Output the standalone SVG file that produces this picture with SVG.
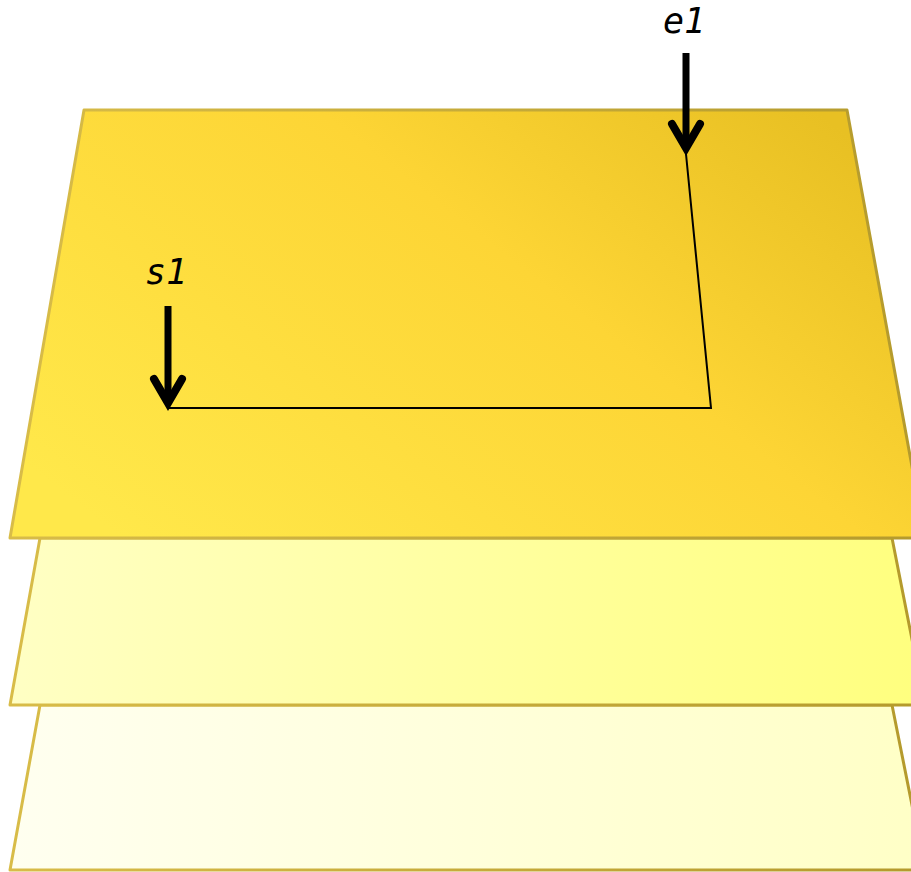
<svg xmlns="http://www.w3.org/2000/svg" width="911" height="872" viewBox="0 0 911 872">
<defs>
<linearGradient id="gTop" x1="0" y1="0.8" x2="1" y2="0.2">
<stop offset="0" stop-color="#FFE84A"/>
<stop offset="0.6" stop-color="#FDD535"/>
<stop offset="1" stop-color="#E8C023"/>
</linearGradient>
<linearGradient id="gMid" x1="0" y1="0" x2="1" y2="0">
<stop offset="0" stop-color="#FFFFC4"/>
<stop offset="1" stop-color="#FFFF7E"/>
</linearGradient>
<linearGradient id="gBot" x1="0" y1="0" x2="1" y2="0">
<stop offset="0" stop-color="#FFFFF0"/>
<stop offset="1" stop-color="#FFFFC6"/>
</linearGradient>
<linearGradient id="gStroke" x1="0" y1="0" x2="1" y2="0">
<stop offset="0" stop-color="#D8BC48"/>
<stop offset="1" stop-color="#B49A2C"/>
</linearGradient>
</defs>
<style>
.plate{stroke:url(#gStroke);stroke-width:3;stroke-linejoin:round}
.lbl{font-family:"DejaVu Sans Mono","Liberation Mono",monospace;font-style:italic;font-size:35px;fill:#000;text-anchor:middle}
.shaft{stroke:#000;stroke-width:7;fill:none}
.head{stroke:#000;stroke-width:8;fill:none;stroke-linecap:round;stroke-linejoin:miter}
.route{stroke:#000;stroke-width:2;fill:none}
</style>
<g id="plate-bottom">
<polygon class="plate" points="40,705 892,705 925,870 10,870" fill="url(#gBot)"/>
</g>
<g id="plate-middle">
<polygon class="plate" points="40,538 892,538 925,705 10,705" fill="url(#gMid)"/>
</g>
<g id="plate-top">
<polygon class="plate" points="84,110 847,110 925,538 10,538" fill="url(#gTop)"/>
</g>
<g id="connectors">
<polyline class="route" points="686,154 711,408 168,408"/>
<line class="shaft" x1="686" y1="53" x2="686" y2="146"/>
<polyline class="head" points="672,124 686,148 700,124"/>
<line class="shaft" x1="168" y1="306" x2="168" y2="400"/>
<polyline class="head" points="154,379 168,403 182,379"/>
</g>
<g id="label-e1">
<text class="lbl" x="684" y="33">e1</text>
</g>
<g id="label-s1">
<text class="lbl" x="166" y="284">s1</text>
</g>
</svg>
